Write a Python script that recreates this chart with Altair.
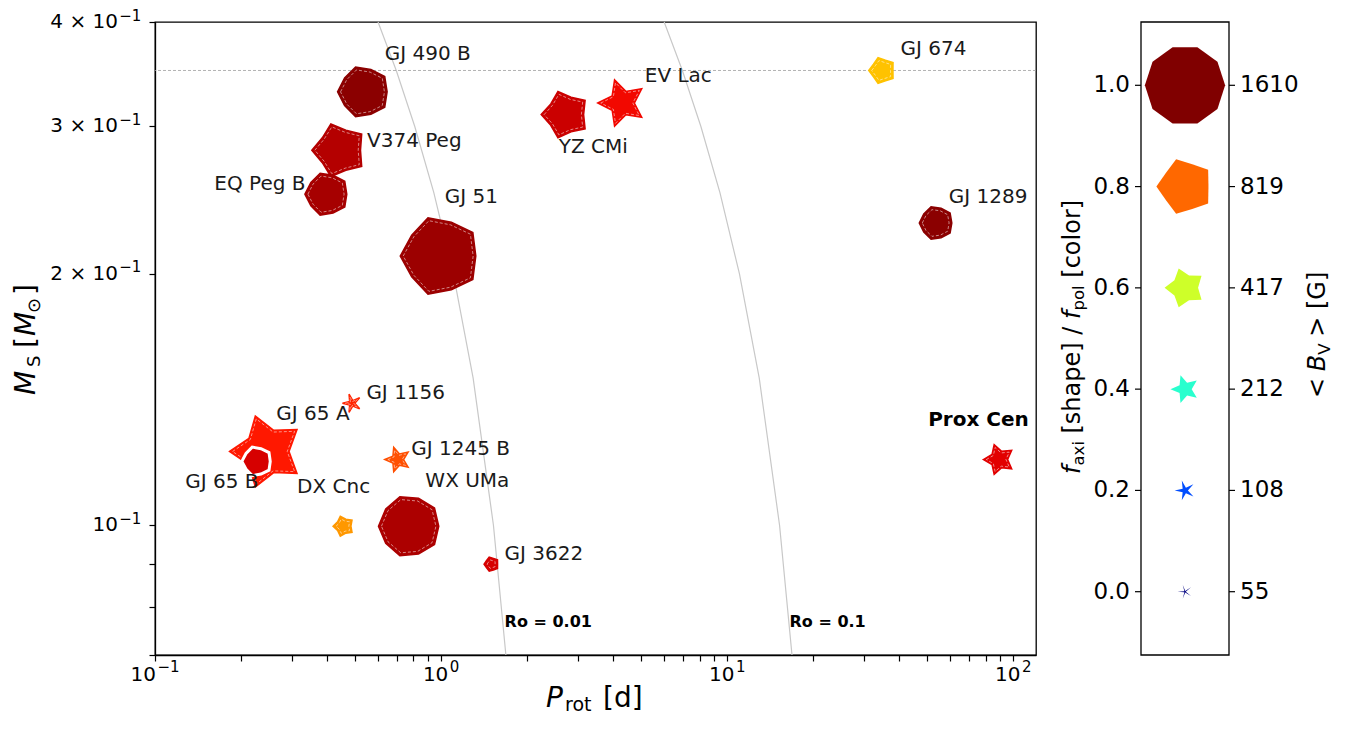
import math
import altair as alt
import pandas as pd

# ---------------- data ----------------
names = ["GJ 490 B", "V374 Peg", "EQ Peg B", "GJ 51", "YZ CMi", "EV Lac", "GJ 674",
         "GJ 1289", "GJ 1156", "GJ 65 A", "GJ 65 B", "GJ 1245 B", "DX Cnc", "WX UMa",
         "GJ 3622", "Prox Cen"]
p_rot = [0.536, 0.441, 0.399, 0.994, 2.72, 4.29, 34.8, 53.8, 0.488, 0.246, 0.227,
         0.705, 0.456, 0.775, 1.50, 89.1]
m_star = [0.330, 0.281, 0.249, 0.210, 0.310, 0.320, 0.350, 0.230, 0.140, 0.1226, 0.1193,
          0.1199, 0.0998, 0.0998, 0.0899, 0.1199]
b_v = [680, 760, 485, 1610, 590, 590, 180, 290, 90, 1390, 225, 165, 110, 960, 55, 245]
f_pol = [0.99, 0.955, 0.967, 0.975, 0.935, 0.901, 0.705, 0.99, 0.871, 0.885, 0.925,
         0.826, 0.749, 0.962, 0.925, 0.915]
f_axi = [0.89, 0.74, 0.89, 0.87, 0.72, 0.45, 0.78, 0.90, 0.22, 0.55, 0.88,
         0.40, 0.67, 0.94, 0.80, 0.50]
label_p = [0.635, 0.551, 0.1612, 1.029, 2.577, 5.15, 40.35, 59.5, 0.548, 0.2655, 0.1276,
           0.787, 0.3137, 0.881, 1.665, 50.4]
label_m = [0.3661, 0.2884, 0.2561, 0.2470, 0.2837, 0.3452, 0.3711, 0.2470, 0.1439, 0.1361,
           0.1126, 0.1236, 0.1111, 0.1131, 0.0925, 0.1338]
bold_name = "Prox Cen"

ro_mass = [0.07, 0.10, 0.15, 0.20, 0.25, 0.30, 0.35, 0.40]
ro_p_001 = [1.684, 1.524, 1.294, 1.103, 0.943, 0.809, 0.697, 0.602]
ro_p_01 = [16.84, 15.24, 12.94, 11.03, 9.43, 8.09, 6.97, 6.02]
ro_labels = ["Ro = 0.01", "Ro = 0.1"]
ro_label_p = [1.667, 16.51]
ro_label_m = [0.0767, 0.0767]

m_ref_line = 0.35

# tick labels (mantissa part / exponent part)
x_lab_vals = [0.1, 1, 10, 100]
x_lab_exp = ["−1", "0", "1", "2"]
y_lab_vals = [0.1, 0.2, 0.3, 0.4]
y_lab_base = ["10", "2 × 10", "3 × 10", "4 × 10"]
y_lab_exp = ["−1", "−1", "−1", "−1"]

leg_f = [0.0, 0.2, 0.4, 0.6, 0.8, 1.0]
leg_b = [55, 108, 212, 417, 819, 1610]
leg_f_text = ["0.0", "0.2", "0.4", "0.6", "0.8", "1.0"]
leg_b_text = ["55", "108", "212", "417", "819", "1610"]


# ---------------- helpers ----------------
def _interp(stops, v):
    for (x0, y0), (x1, y1) in zip(stops[:-1], stops[1:]):
        if x0 <= v <= x1:
            return y0 + (y1 - y0) * (v - x0) / (x1 - x0)
    return stops[-1][1]


def jet(v):
    r = _interp([(0, 0), (0.35, 0), (0.66, 1), (0.89, 1), (1, 0.5)], v)
    g = _interp([(0, 0), (0.125, 0), (0.375, 1), (0.64, 1), (0.91, 0), (1, 0)], v)
    b = _interp([(0, 0.5), (0.11, 1), (0.34, 1), (0.65, 0), (1, 0)], v)
    return "#%02x%02x%02x" % tuple(int(round(255 * c)) for c in (r, g, b))


def star_path(f):
    inner = 0.1 + 0.9 * f
    pts = []
    for k in range(10):
        a = math.radians(180 + 36 * k)
        rad = 1.0 if k % 2 == 0 else inner
        pts.append("%.4f %.4f" % (rad * math.cos(a), rad * math.sin(a)))
    return "M " + " L ".join(pts) + " Z"


FONT = "DejaVu Sans"

# ---------------- tables ----------------
stars = pd.DataFrame({
    "name": names, "prot": p_rot, "mass": m_star, "B": b_v,
    "col": [jet(v) for v in f_pol], "path": [star_path(v) for v in f_axi],
})
stars["sz"] = [4 * b for b in b_v]
stars["sz_in"] = [4 * max(math.sqrt(b) - 3.0, 1.0) ** 2 for b in b_v]

labels = pd.DataFrame({"name": names, "prot": label_p, "mass": label_m})

ro_df = pd.DataFrame({
    "mass": ro_mass * 2,
    "prot": ro_p_001 + ro_p_01,
    "curve": ["0.01"] * len(ro_mass) + ["0.1"] * len(ro_mass),
})
ro_lab = pd.DataFrame({"t": ro_labels, "prot": ro_label_p, "mass": ro_label_m})
hline = pd.DataFrame({"mass": [m_ref_line]})

xlab = pd.DataFrame({"prot": x_lab_vals, "e": x_lab_exp})
ylab = pd.DataFrame({"mass": y_lab_vals, "b": y_lab_base, "e": y_lab_exp})

leg = pd.DataFrame({
    "f": leg_f, "B": leg_b, "ft": leg_f_text, "bt": leg_b_text,
    "col": [jet(v) for v in leg_f], "path": [star_path(v) for v in leg_f],
})
leg["sz"] = [4 * b for b in leg_b]

# ---------------- scales / axes ----------------
PW, PH = 881, 633
x_ticks = [round(m * 10 ** e, 6) for e in (-1, 0, 1) for m in range(1, 10)] + [100]
y_ticks = [0.07, 0.08, 0.09, 0.1, 0.2, 0.3, 0.4]

x_scale = alt.Scale(type="log", domain=[0.1, 120], nice=False)
y_scale = alt.Scale(type="log", domain=[0.07, 0.4], nice=False)

axis_common = dict(
    title=None, grid=False, tickSize=6, tickWidth=1.2, tickColor="black",
    domainColor="black", domainWidth=1.3, labels=False,
)
x_axis = alt.Axis(values=x_ticks, **axis_common)
y_axis = alt.Axis(values=y_ticks, **axis_common)

X = alt.X("prot:Q", scale=x_scale, axis=x_axis)
Y = alt.Y("mass:Q", scale=y_scale, axis=y_axis)

# ---------------- main panel ----------------
ro_lines = alt.Chart(ro_df).mark_line(color="#c8c8c8", strokeWidth=1.2).encode(
    x=X, y=Y, detail="curve:N", order="mass:Q")

ref_rule = alt.Chart(hline).mark_rule(
    color="#a0a0a0", strokeWidth=0.8, strokeDash=[3, 2]).encode(y=Y)

not_b = alt.datum.name != "GJ 65 B"
is_b = alt.datum.name == "GJ 65 B"

pts_fill = alt.Chart(stars).transform_filter(not_b).mark_point(
    filled=True, opacity=1, strokeWidth=1.5).encode(
    x=X, y=Y,
    shape=alt.Shape("path:N", scale=None),
    size=alt.Size("sz:Q", scale=None),
    fill=alt.Fill("col:N", scale=None),
    stroke=alt.Stroke("col:N", scale=None),
)
pts_dash = alt.Chart(stars).transform_filter(not_b).mark_point(
    filled=False, opacity=0.75, stroke="white", strokeWidth=0.7, strokeDash=[3, 2]).encode(
    x=X, y=Y,
    shape=alt.Shape("path:N", scale=None),
    size=alt.Size("sz_in:Q", scale=None),
)
b_fill = alt.Chart(stars).transform_filter(is_b).mark_point(
    filled=True, opacity=1, stroke="white", strokeWidth=3).encode(
    x=X, y=Y,
    shape=alt.Shape("path:N", scale=None),
    size=alt.Size("sz:Q", scale=None),
    fill=alt.Fill("col:N", scale=None),
)

name_text = alt.Chart(labels).transform_filter(alt.datum.name != bold_name).mark_text(
    align="left", baseline="middle", font=FONT, fontSize=20, color="#1a1a1a").encode(
    x=X, y=Y, text="name:N")
name_bold = alt.Chart(labels).transform_filter(alt.datum.name == bold_name).mark_text(
    align="left", baseline="middle", font=FONT, fontSize=20, fontWeight="bold",
    color="black").encode(x=X, y=Y, text="name:N")
ro_text = alt.Chart(ro_lab).mark_text(
    align="left", baseline="middle", font=FONT, fontSize=16, fontWeight="bold",
    color="black").encode(x=X, y=Y, text="t:N")

# --- tick labels: "10" + superscript exponent, DejaVu advance widths ---
BASE_FS, EXP_FS = 20, 15
w_base = 1.272 * BASE_FS          # "10"
w_neg = (0.838 + 0.636) * EXP_FS  # "−1"
w_dig = 0.636 * EXP_FS            # single digit
gap = 1.5
tot_neg = w_base + gap + w_neg
tot_dig = w_base + gap + w_dig

neg = alt.datum.e == "−1"
pos = alt.datum.e != "−1"
XL_Y, XE_Y = 653, 645
x_lab_layers = [
    alt.Chart(xlab).transform_filter(neg).mark_text(
        text="10", align="left", baseline="middle", font=FONT, fontSize=BASE_FS,
        color="black", dx=-tot_neg / 2).encode(x=X, y=alt.value(XL_Y)),
    alt.Chart(xlab).transform_filter(neg).mark_text(
        align="left", baseline="middle", font=FONT, fontSize=EXP_FS, color="black",
        dx=-tot_neg / 2 + w_base + gap).encode(x=X, y=alt.value(XE_Y), text="e:N"),
    alt.Chart(xlab).transform_filter(pos).mark_text(
        text="10", align="left", baseline="middle", font=FONT, fontSize=BASE_FS,
        color="black", dx=-tot_dig / 2).encode(x=X, y=alt.value(XL_Y)),
    alt.Chart(xlab).transform_filter(pos).mark_text(
        align="left", baseline="middle", font=FONT, fontSize=EXP_FS, color="black",
        dx=-tot_dig / 2 + w_base + gap).encode(x=X, y=alt.value(XE_Y), text="e:N"),
]
y_lab_layers = [
    alt.Chart(ylab).mark_text(align="right", baseline="middle", font=FONT,
                              fontSize=BASE_FS, color="black").encode(
        x=alt.value(-37), y=Y, text="b:N"),
    alt.Chart(ylab).mark_text(align="left", baseline="middle", font=FONT,
                              fontSize=EXP_FS, color="black", dy=-6.5).encode(
        x=alt.value(-35.7), y=Y, text="e:N"),
]

one = alt.Data(values=[{"k": 1}])


def seg(text, x, y, size, style="normal", angle=0):
    return alt.Chart(one).mark_text(
        text=text, align="left", baseline="alphabetic", font=FONT, fontSize=size,
        fontStyle=style, angle=angle, color="black").encode(
        x=alt.value(x), y=alt.value(y))


# axis titles (pixel coordinates relative to the plot area)
x_title = [
    seg("P", 391, 685, 28, "italic"),
    seg("rot", 410, 688.5, 19),
    seg("[d]", 448, 685, 28),
]
y_title = [
    seg("M", -120, 373, 28, "italic", 270),
    seg("S", -115, 345, 18, "normal", 270),
    seg("[", -120, 326, 28, "normal", 270),
    seg("M", -120, 314, 28, "italic", 270),
    seg("⊙", -115, 291, 18, "normal", 270),
    seg("]", -120, 273, 28, "normal", 270),
]

main = alt.layer(ro_lines, ref_rule, pts_fill, pts_dash, b_fill, name_text, name_bold,
                 ro_text, *x_lab_layers, *y_lab_layers, *x_title, *y_title)

# ---------------- legend panel ----------------
LY = alt.Y("f:Q", scale=alt.Scale(domain=[-0.125, 1.125], nice=False, zero=False), axis=None)
box = alt.Chart(one).mark_rect(fill="transparent", stroke="black", strokeWidth=1.3).encode(
    x=alt.value(986), x2=alt.value(1074), y=alt.value(0), y2=alt.value(PH))
leg_pts = alt.Chart(leg).mark_point(filled=True, opacity=1, strokeWidth=0).encode(
    x=alt.value(1030), y=LY,
    shape=alt.Shape("path:N", scale=None),
    size=alt.Size("sz:Q", scale=None),
    fill=alt.Fill("col:N", scale=None),
)
tick_l = alt.Chart(leg).mark_rule(color="black", strokeWidth=1.2).encode(
    x=alt.value(980), x2=alt.value(986), y=LY)
tick_r = alt.Chart(leg).mark_rule(color="black", strokeWidth=1.2).encode(
    x=alt.value(1074), x2=alt.value(1080), y=LY)
lab_l = alt.Chart(leg).mark_text(align="right", baseline="middle", font=FONT, fontSize=23,
                                 color="black").encode(x=alt.value(975), y=LY, text="ft:N")
lab_r = alt.Chart(leg).mark_text(align="left", baseline="middle", font=FONT, fontSize=23,
                                 color="black").encode(x=alt.value(1085), y=LY, text="bt:N")

leg_title_l = [
    seg("f", 925, 452, 24, "italic", 270),
    seg("axi", 929, 443.5, 16.5, "normal", 270),
    seg("[shape] /", 925, 411.5, 24, "normal", 270),
    seg("f", 925, 297, 24, "italic", 270),
    seg("pol", 929, 288.5, 16.5, "normal", 270),
    seg("[color]", 925, 255.7, 24, "normal", 270),
]
leg_title_r = [
    seg("<", 1170, 376, 24, "normal", 270),
    seg("B", 1170, 349.2, 24, "italic", 270),
    seg("V", 1175, 332.7, 16.5, "normal", 270),
    seg(">", 1170, 314.7, 24, "normal", 270),
    seg("[G]", 1170, 287, 24, "normal", 270),
]

legend = alt.layer(box, leg_pts, tick_l, tick_r, lab_l, lab_r, *leg_title_l, *leg_title_r)

chart = alt.layer(main, legend).resolve_scale(y="independent").properties(
    width=PW, height=PH,
    autosize=alt.AutoSizeParams(type="none"),
    padding={"left": 147, "top": 14, "right": 300, "bottom": 60},
).configure_view(stroke="black", strokeWidth=1.3)

chart.save("out.html", embed_options={"renderer": "svg", "actions": False})
